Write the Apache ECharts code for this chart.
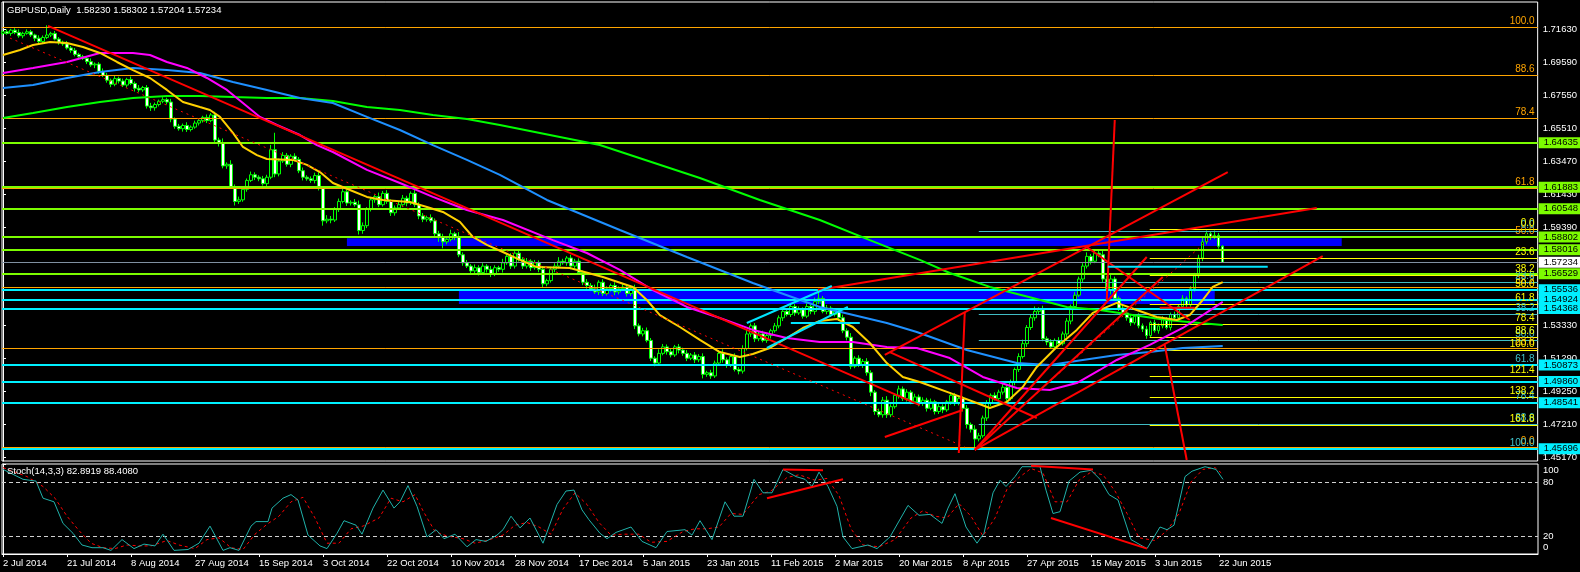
<!DOCTYPE html>
<html><head><meta charset="utf-8">
<script src="https://cdn.jsdelivr.net/npm/echarts@6/dist/echarts.min.js"></script>
<style>html,body{margin:0;padding:0;background:#000;overflow:hidden}#c{width:1580px;height:572px}</style>
</head><body><div id="c"></div>
<script>
// ---------------- DATA ----------------
const symbolName = 'GBPUSD,Daily';
const dateLabels = ['2 Jul 2014','21 Jul 2014','8 Aug 2014','27 Aug 2014','15 Sep 2014','3 Oct 2014','22 Oct 2014','10 Nov 2014','28 Nov 2014','17 Dec 2014','5 Jan 2015','23 Jan 2015','11 Feb 2015','2 Mar 2015','20 Mar 2015','8 Apr 2015','27 Apr 2015','15 May 2015','3 Jun 2015','22 Jun 2015'];
const labelStep = 16; // bars between date labels
const firstOpen = 17140; // pips
const closes = [17150,17140,17160,17145,17125,17140,17150,17130,17110,17090,
17115,17130,17140,17105,17085,17075,17050,17035,17010,16995,
16985,16965,16945,16950,16905,16880,16850,16825,16860,16845,
16820,16855,16830,16800,16790,16805,16690,16680,16700,16720,
16730,16715,16610,16565,16550,16570,16545,16560,16585,16600,
16620,16600,16635,16480,16460,16320,16330,16190,16100,16110,
16175,16230,16265,16250,16240,16210,16250,16420,16270,16350,
16385,16330,16380,16360,16290,16250,16240,16230,16260,16180,
15980,15990,15985,16050,16100,16160,16090,16095,16080,15920,
15950,16050,16110,16130,16080,16150,16100,16030,16060,16080,
16120,16090,16150,16080,16010,15990,16000,15980,15900,15880,
15850,15865,15900,15880,15770,15720,15700,15670,15690,15660,
15700,15680,15650,15690,15680,15720,15760,15700,15780,15740,
15700,15730,15690,15720,15680,15590,15610,15680,15700,15730,
15720,15750,15700,15730,15660,15600,15580,15560,15540,15600,
15530,15560,15580,15540,15560,15570,15530,15560,15330,15280,
15300,15240,15130,15100,15160,15200,15170,15150,15200,15180,
15160,15130,15150,15120,15140,15030,15040,15020,15100,15160,
15120,15090,15140,15060,15050,15190,15280,15330,15250,15280,
15240,15270,15300,15330,15380,15420,15400,15450,15410,15430,
15390,15450,15420,15480,15500,15420,15440,15400,15420,15380,
15300,15260,15080,15130,15090,15110,15040,14920,14800,14780,
14870,14780,14830,14900,14940,14880,14920,14860,14890,14850,
14870,14820,14860,14800,14830,14810,14860,14900,14850,14880,
14820,14720,14690,14630,14650,14760,14850,14900,14880,14920,
14950,14880,14980,15060,15140,15220,15320,15380,15420,15430,
15250,15230,15200,15240,15220,15280,15360,15450,15520,15620,
15700,15760,15730,15780,15770,15620,15550,15620,15500,15440,
15410,15380,15350,15390,15330,15310,15270,15350,15300,15330,
15370,15320,15400,15380,15450,15500,15460,15560,15640,15750,
15850,15900,15880,15890,15823,15723.4];
const upWick = [10,15,8,12,20,10,15,12,8,18,
12,60,10,15,12,10,18,12,15,10,
12,15,20,10,12,18,15,10,20,12,
15,10,18,12,20,10,15,20,12,10,
15,12,20,10,15,12,20,10,15,12,
10,18,12,20,15,30,12,25,15,20,
15,12,20,15,12,18,15,30,105,15,
20,15,12,18,15,20,12,15,18,20,
15,25,20,15,18,30,15,12,20,25,
20,15,18,12,25,15,20,12,15,18,
20,15,12,25,15,18,12,20,15,18,
20,15,25,12,30,15,18,12,20,15,
18,12,20,15,12,25,15,20,12,18,
15,20,12,18,15,20,12,15,18,25,
15,12,20,15,18,12,20,15,25,12,
18,15,12,20,15,18,12,20,25,15,
18,20,15,12,25,18,15,20,12,18,
15,20,12,18,15,20,12,18,15,20,
25,15,12,20,15,20,25,15,18,12,
20,15,12,18,15,20,12,18,15,20,
15,20,12,25,60,15,20,12,18,15,
20,15,25,12,18,15,20,15,12,18,
20,25,15,12,20,15,18,12,20,15,
18,15,20,12,18,15,12,20,15,18,
15,20,12,25,18,15,20,12,18,15,
20,15,18,12,20,25,15,20,30,15,
25,15,18,12,20,15,18,12,20,15,
18,25,15,20,15,30,20,25,15,12,
18,15,20,12,18,15,20,12,18,15,
20,15,12,18,15,20,12,15,18,20,
25,20,15,30,15,7.2];
const dnWick = [12,8,15,10,12,15,8,12,18,10,
15,10,12,8,15,12,10,15,12,18,
10,15,12,20,15,10,15,18,12,15,
12,15,10,20,15,12,15,20,18,12,
12,15,20,15,12,18,15,12,10,15,
12,15,10,12,20,15,18,12,25,15,
12,15,10,18,15,12,15,12,20,15,
12,15,18,12,15,20,12,15,18,12,
30,15,20,12,15,12,18,15,12,25,
20,15,12,18,15,12,15,20,18,12,
15,20,12,15,20,18,15,12,25,30,
40,15,12,20,15,18,12,20,15,18,
15,20,18,12,15,20,12,18,15,12,
18,15,20,12,18,20,15,12,18,15,
12,18,20,15,12,18,20,15,12,18,
15,12,18,20,15,12,18,15,20,15,
15,12,18,20,15,12,18,15,12,20,
15,18,12,20,15,25,15,18,12,15,
18,20,15,12,20,15,12,18,20,15,
12,15,18,12,15,20,12,15,18,12,
15,12,18,20,15,12,18,15,12,20,
15,20,18,12,15,20,18,25,20,15,
18,20,15,12,20,15,18,15,12,18,
15,20,12,18,15,20,12,18,15,12,
20,25,20,60,15,12,18,15,12,18,
15,20,12,18,15,12,20,15,18,20,
15,20,12,18,15,12,18,20,15,12,
18,15,20,12,15,18,20,25,15,18,
15,18,20,12,15,18,20,15,12,18,
15,12,18,15,12,20,15,12,18,15,
20,15,18,12,15,3.0];

// moving averages: [bar index, price]
const maYellow = [[0,1.7006],[4.25,1.7037],[7.5,1.7068],[11.75,1.7087],[16,1.7081],[20,1.7056],[24.25,1.7019],[28.5,1.6963],[32.5,1.6913],[36.75,1.6864],[41,1.6790],[45,1.6715],[49.25,1.6684],[51.75,1.6666],[54.25,1.6623],[57.5,1.6524],[60,1.6437],[63.5,1.6387],[66,1.6363],[72.5,1.6357],[76,1.6326],[79.25,1.6282],[82.5,1.6214],[86.75,1.6171],[91,1.6128],[95,1.6109],[101.75,1.6097],[106,1.6066],[110,1.6035],[114.25,1.5973],[117.5,1.5880],[121,1.5831],[125,1.5787],[129.25,1.5738],[133.5,1.5694],[141.75,1.5688],[150,1.5632],[157.5,1.5571],[161,1.5490],[164.25,1.5397],[169.25,1.5323],[174.25,1.5243],[179.25,1.5168],[184.25,1.5137],[187.5,1.5156],[191.75,1.5193],[196,1.5255],[200,1.5317],[204.25,1.5360],[208.5,1.5373],[212.5,1.5323],[216.75,1.5224],[221,1.5100],[225,1.5014],[229.25,1.4983],[236.75,1.4915],[243.5,1.4853],[246.75,1.4822],[251,1.4859],[255,1.4952],[258.5,1.5076],[263.5,1.5199],[268.5,1.5305],[272.5,1.5410],[278.5,1.5472],[283.5,1.5428],[288.5,1.5385],[293.5,1.5366],[296.75,1.5397],[300,1.5490],[302.5,1.5571],[305,1.5601]];
const maMagenta = [[0,1.6895],[7.5,1.6926],[16,1.6963],[24.25,1.7019],[32.5,1.7019],[36.75,1.7006],[41,1.6963],[46,1.6926],[51,1.6864],[56,1.6790],[60,1.6709],[64.25,1.6623],[68.5,1.6573],[74.25,1.6511],[78.5,1.6449],[82.5,1.6406],[91,1.6295],[99.25,1.6214],[107.5,1.6128],[116,1.6047],[125,1.5985],[137.5,1.5861],[146,1.5781],[154.25,1.5676],[162.5,1.5552],[171,1.5447],[179.25,1.5379],[187.5,1.5305],[196,1.5255],[204.25,1.5230],[212.5,1.5230],[221,1.5199],[228.5,1.5193],[236.75,1.5131],[245,1.5014],[253.5,1.4946],[261.75,1.4933],[268.5,1.4976],[274.25,1.5057],[278.5,1.5119],[286.75,1.5212],[295,1.5317],[300,1.5397],[305,1.5478]];
const maBlue = [[0,1.6802],[7.5,1.6821],[16,1.6864],[24.25,1.6901],[32.5,1.6926],[41,1.6913],[49.25,1.6895],[57.5,1.6839],[66,1.6790],[74.25,1.6740],[82.5,1.6709],[91,1.6623],[99.25,1.6542],[107.5,1.6449],[116,1.6357],[124.25,1.6264],[136,1.6109],[154.25,1.5923],[171,1.5756],[187.5,1.5595],[204.25,1.5447],[221,1.5348],[228.5,1.5292],[241,1.5181],[253.5,1.5100],[261.75,1.5088],[270,1.5119],[278.5,1.5150],[286.75,1.5168],[295,1.5193],[305,1.5205]];
const maGreen = [[0,1.6616],[7.5,1.6647],[16,1.6684],[24.25,1.6715],[32.5,1.6740],[41,1.6753],[49.25,1.6753],[57.5,1.6746],[66,1.6740],[74.25,1.6740],[82.5,1.6722],[91,1.6684],[99.25,1.6666],[107.5,1.6635],[116,1.6610],[124.25,1.6573],[149.25,1.6449],[174.25,1.6245],[189.25,1.6109],[204.25,1.5985],[216.75,1.5861],[229.25,1.5738],[236.75,1.5657],[246.75,1.5571],[257.5,1.5503],[266,1.5447],[274.25,1.5428],[282.5,1.5397],[291,1.5366],[299.25,1.5348],[305,1.5335]];

// trend lines (bar index, price)
const redLines = [
  [[11.25,1.7186],[229.25,1.4840]],
  [[278,1.6604],[276,1.5490]],
  [[290.5,1.5212],[296,1.4500]],
  [[240.5,1.5416],[239,1.4543]],
  [[220.5,1.5150],[306.25,1.6282]],
  [[203.75,1.5552],[328.5,1.6059]],
  [[243,1.4562],[286,1.5756]],
  [[243,1.4562],[290,1.5632]],
  [[243,1.4562],[330,1.5762]],
  [[271,1.5818],[296.75,1.5366]],
  [[220.5,1.4642],[240,1.4809]],
  [[221.75,1.5168],[258.5,1.4760]],
  [[289.25,1.5442],[298,1.5442]]
];
const redDotted = [[[1.75,1.7111],[240.5,1.4581]],[[244,1.4590],[303,1.5900]]];
const cyanLines = [
  [[186,1.5348],[207.25,1.5577]],
  [[191,1.5193],[211.25,1.5447]],
  [[197,1.5348],[214.25,1.5348]]
];
const cyanShort = [[276.25,1.5696],[316.25,1.5696]];

// horizontal levels
const limeLevels = [1.64635,1.61883,1.60548,1.58802,1.58016,1.56529];
const cyanLevels = [1.55536,1.54924,1.54368,1.50873,1.49860,1.48541,1.45696];
const lastPrice = 1.57234;
const fibRatios = [0,23.6,38.2,50,61.8,78.4,88.6,100];
const fibOrange = {p0:1.4576, p100:1.7178, from:-0.25};
const fibYellow = {p0:1.59276, p100:1.51764, from:286.75, ratios:[0,23.6,38.2,50,61.8,78.4,88.6,100,121.4,138.2,161.8]};
const fibCyan = {p0:1.59171, p100:1.45680, from:244};
const blueRects = [[[86,1.5873],[334.75,1.5825]],[[114,1.5558],[303,1.5465]]];
const priceTicks = [1.7163,1.6959,1.6755,1.6551,1.6347,1.6143,1.5939,1.5333,1.5129,1.4925,1.4721,1.4517];

// stochastic (bar index, value)
const stochK = [[0,94],[5,83],[8.25,81],[10,62],[12.75,58],[15,34],[17.5,23],[19.75,10],[22.25,7],[25,7],[27,4],[29.75,16],[32.75,6],[35.25,11],[38,9],[40,22],[42.75,4],[46.25,5],[49,12],[51.75,31],[55,4],[56.75,7],[59,4],[62,31],[63.25,36],[66.25,36],[67.25,51],[70,62],[72,66],[73.75,60],[76.25,21],[79.25,9],[81,6],[83.5,23],[85.25,37],[88.25,32],[89.75,22],[92.5,51],[95,71],[97.75,51],[99.25,58],[101.25,76],[103.5,53],[106,19],[108.25,27],[110.25,17],[113,22],[116,8],[118.25,16],[120.75,14],[123.5,21],[125,27],[127,42],[129.25,29],[131.75,40],[135,12],[138.5,55],[140.75,70],[142.75,71],[144.75,49],[146.5,38],[149.25,23],[151,17],[153.25,24],[157,30],[159.75,14],[163.25,7],[166,25],[170.5,27],[172.25,21],[174.25,37],[177.25,16],[180.5,58],[182.75,42],[185,42],[187.75,83],[190,68],[192.25,68],[195,94],[198.25,86],[200.5,83],[202.25,75],[204,91],[206.25,75],[208.5,53],[210,19],[212.25,6],[216.25,10],[218.5,6],[221.75,19],[226.25,54],[229,43],[231.75,44],[234.75,34],[236.25,51],[238,67],[240.75,30],[243.5,12],[245.25,23],[247.5,68],[249.25,82],[250.75,75],[253,86],[254.75,97],[259.25,97],[260.75,71],[262.5,45],[264.25,47],[266.5,81],[269.25,91],[272,93],[274.25,83],[276.5,66],[278.75,60],[282,16],[286,6],[289.25,30],[291,27],[292.75,32],[295.5,86],[297.25,92],[300.5,97],[303.25,94],[305,82.8919]];
const stochD = [[0,96],[6,86],[10,75],[13,62],[16,42],[19,26],[22,12],[25,7],[28,6],[31,10],[34,9],[37,9],[41,15],[44,10],[48,6],[51,16],[54,18],[57,7],[60,5],[63,22],[66,33],[69,42],[72,58],[75,63],[78,40],[81,12],[84,12],[87,28],[90,31],[94,40],[97,62],[100,58],[103,66],[105,48],[108,25],[111,20],[115,17],[118,12],[121,15],[125,21],[128,32],[131,35],[134,30],[137,22],[140,50],[143,68],[146,55],[149,35],[152,21],[155,22],[159,22],[162,13],[166,14],[170,25],[173,28],[176,28],[179,30],[182,45],[185,44],[189,66],[192,70],[196,85],[199,88],[203,82],[206,84],[209,65],[212,28],[215,10],[219,8],[223,16],[227,40],[230,48],[233,42],[236,40],[239,56],[242,42],[245,20],[248,40],[251,72],[254,85],[257,95],[260,90],[263,58],[266,58],[269,82],[272,91],[275,88],[278,70],[281,45],[284,18],[288,15],[291,26],[294,45],[297,80],[300,94],[303,96],[305,88.4080]];
const stochRed = [[[191,62],[210,83]],[[195,94],[205,93]],[[257,98],[272.5,94]],[[262,40],[286,6]]];
const stochLevels = [20,80];
const stochTicks = [0,20,80,100];

// ---------------- BUILD ----------------
const FONT = 'Liberation Sans, Arial, sans-serif';
const X_MIN = -0.25, X_MAX = 383.75;
const pip = v => v / 10000;
const candles = closes.map((c, i) => {
  const o = i === 0 ? firstOpen : closes[i - 1];
  const hi = Math.max(o, c) + upWick[i];
  const lo = Math.min(o, c) - dnWick[i];
  return [i, pip(o), pip(c), pip(lo), pip(hi)];
});
const last = candles[candles.length - 1];
const titleText = symbolName + '  ' + [last[1], last[4], last[3], last[2]].map(v => v.toFixed(5)).join(' ');
const kLast = stochK[stochK.length - 1][1], dLast = stochD[stochD.length - 1][1];
const stochTitle = 'Stoch(14,3,3) ' + kLast.toFixed(4) + ' ' + dLast.toFixed(4);

function seg(data, color, width, type, z, xi, yi) {
  return {type:'line', xAxisIndex:xi||0, yAxisIndex:yi||0, data, showSymbol:false, symbol:'none',
    lineStyle:{color, width, type:type||'solid'}, z:z||5, silent:true, animation:false, clip:true};
}

const mlData = [];
const fibLabel = (txt, color) => ({show:true, position:'insideEndTop', formatter:txt, color, fontSize:10, fontFamily:FONT, distance:[3,1]});
fibRatios.forEach(r => {
  const p = fibOrange.p0 + (fibOrange.p100 - fibOrange.p0) * r / 100;
  mlData.push({yAxis:p, lineStyle:{color:'#ffa500', width:1, type:'solid'}, label:fibLabel(r.toFixed(1), '#ffa500')});
});
fibRatios.forEach(r => {
  const p = fibCyan.p0 + (fibCyan.p100 - fibCyan.p0) * r / 100;
  mlData.push([{coord:[fibCyan.from, p], lineStyle:{color:'#40bcc4', width:1, type:'solid'}, label:fibLabel(r.toFixed(1), '#40c4cc')}, {coord:[X_MAX, p]}]);
});
fibYellow.ratios.forEach(r => {
  const p = fibYellow.p0 + (fibYellow.p100 - fibYellow.p0) * r / 100;
  mlData.push([{coord:[fibYellow.from, p], lineStyle:{color:'#ffff00', width:1, type:'solid'}, label:fibLabel(r.toFixed(1), '#ffff00')}, {coord:[X_MAX, p]}]);
});
const boxLabel = (p, bg, fg) => ({show:true, position:'end', distance:1, formatter:p.toFixed(5), backgroundColor:bg, color:fg, padding:[1,3,0,5], fontSize:9.5, fontFamily:FONT});
mlData.push({yAxis:lastPrice, lineStyle:{color:'#8090a0', width:1, type:'solid'}, label:boxLabel(lastPrice, '#ffffff', '#000')});
limeLevels.forEach(p => mlData.push({yAxis:p, lineStyle:{color:'#7cfc00', width:2, type:'solid'}, label:boxLabel(p, '#7cfc00', '#000')}));
cyanLevels.forEach(p => mlData.push({yAxis:p, lineStyle:{color:'#00f0ff', width:2, type:'solid'}, label:boxLabel(p, '#00f0ff', '#000')}));

const series = [];
series.push({type:'line', xAxisIndex:0, yAxisIndex:0, data:[], z:1, silent:true, animation:false,
  markArea:{silent:true, itemStyle:{color:'#0000ff', opacity:1}, data: blueRects.map(r => [{coord:r[0]}, {coord:r[1]}])}});
series.push({type:'candlestick', xAxisIndex:0, yAxisIndex:0, data:candles, encode:{x:0, y:[1,2,3,4]}, barWidth:3, z:3, silent:true, animation:false,
  itemStyle:{color:'#000', color0:'#fff', borderColor:'#00ff00', borderColor0:'#00ff00', borderWidth:1}});
series.push({type:'line', xAxisIndex:0, yAxisIndex:0, data:[], z:4, silent:true, animation:false,
  markLine:{silent:true, animation:false, symbol:['none','none'], precision:5, data:mlData}});
series.push(seg(maGreen, '#00ff00', 2, 'solid', 6));
series.push(seg(maBlue, '#1e90ff', 2, 'solid', 6));
series.push(seg(maMagenta, '#ff00ff', 2, 'solid', 6));
series.push(seg(maYellow, '#ffd000', 2, 'solid', 6));
redLines.forEach(l => series.push(seg(l, '#ff0000', 2, 'solid', 7)));
redDotted.forEach(l => series.push(seg(l, '#ff0000', 1, [2,4], 7)));
cyanLines.forEach(l => series.push(seg(l, '#00e5ff', 2, 'solid', 7)));
series.push(seg(cyanShort, '#00e5ff', 2, 'solid', 7));
series.push({type:'line', xAxisIndex:1, yAxisIndex:1, data:[], z:2, silent:true, animation:false,
  markLine:{silent:true, animation:false, symbol:['none','none'], label:{show:false},
    lineStyle:{color:'#d0d0d0', width:1, type:[4,3]}, data:stochLevels.map(v => ({yAxis:v}))}});
series.push(seg(stochD, '#ff0000', 1, [3,3], 5, 1, 1));
series.push(seg(stochK, '#20b2aa', 1, 'solid', 6, 1, 1));
stochRed.forEach(l => series.push(seg(l, '#ff0000', 2, 'solid', 7, 1, 1)));

const dateTicks = dateLabels.map((d, k) => k * labelStep);

const option = {
  backgroundColor:'#000',
  animation:false,
  textStyle:{fontFamily:FONT},
  grid:[
    {left:2, top:2, width:1536, height:459, show:true, borderColor:'#ffffff', borderWidth:1, backgroundColor:'transparent'},
    {left:2, top:464, width:1536, height:90, show:true, borderColor:'#ffffff', borderWidth:1, backgroundColor:'transparent'}
  ],
  xAxis:[
    {type:'value', gridIndex:0, min:X_MIN, max:X_MAX, show:false},
    {type:'value', gridIndex:1, min:X_MIN, max:X_MAX, splitLine:{show:false},
      axisLine:{show:true, lineStyle:{color:'#fff'}},
      axisTick:{show:true, customValues:dateTicks, length:3, lineStyle:{color:'#fff'}},
      axisLabel:{show:true, customValues:dateTicks, color:'#fff', fontSize:9.5, fontFamily:FONT, align:'left', margin:4,
        formatter:v => dateLabels[Math.round(v / labelStep)] || ''}}
  ],
  yAxis:[
    {type:'value', gridIndex:0, position:'right', min:1.44938, max:1.73342, splitLine:{show:false},
      axisLine:{show:true, lineStyle:{color:'#fff'}},
      axisTick:{show:true, customValues:priceTicks, length:3, inside:false, lineStyle:{color:'#fff'}},
      axisLabel:{show:true, customValues:priceTicks, color:'#fff', fontSize:9.5, fontFamily:FONT, margin:5, formatter:v => v.toFixed(5)}},
    {type:'value', gridIndex:1, position:'right', min:0, max:100, splitLine:{show:false},
      axisLine:{show:true, lineStyle:{color:'#fff'}},
      axisTick:{show:true, customValues:stochTicks, length:3, lineStyle:{color:'#fff'}},
      axisLabel:{show:true, customValues:stochTicks, color:'#fff', fontSize:9.5, fontFamily:FONT, margin:5,
        formatter:v => v === 100 ? '{a|100}' : (v === 0 ? '{b|0}' : String(v)),
        rich:{a:{color:'#fff', fontSize:9.5, padding:[13,0,0,0]}, b:{color:'#fff', fontSize:9.5, padding:[0,0,14,0]}}}}
  ],
  graphic:[
    {type:'text', left:7, top:5, silent:true, style:{text:titleText, fill:'#fff', font:'9.5px ' + FONT}},
    {type:'text', left:7, top:466, silent:true, z:100, style:{text:stochTitle, fill:'#fff', font:'9.5px ' + FONT}}
  ],
  series
};
const chart = echarts.init(document.getElementById('c'));
chart.setOption(option);
</script>
</body></html>
